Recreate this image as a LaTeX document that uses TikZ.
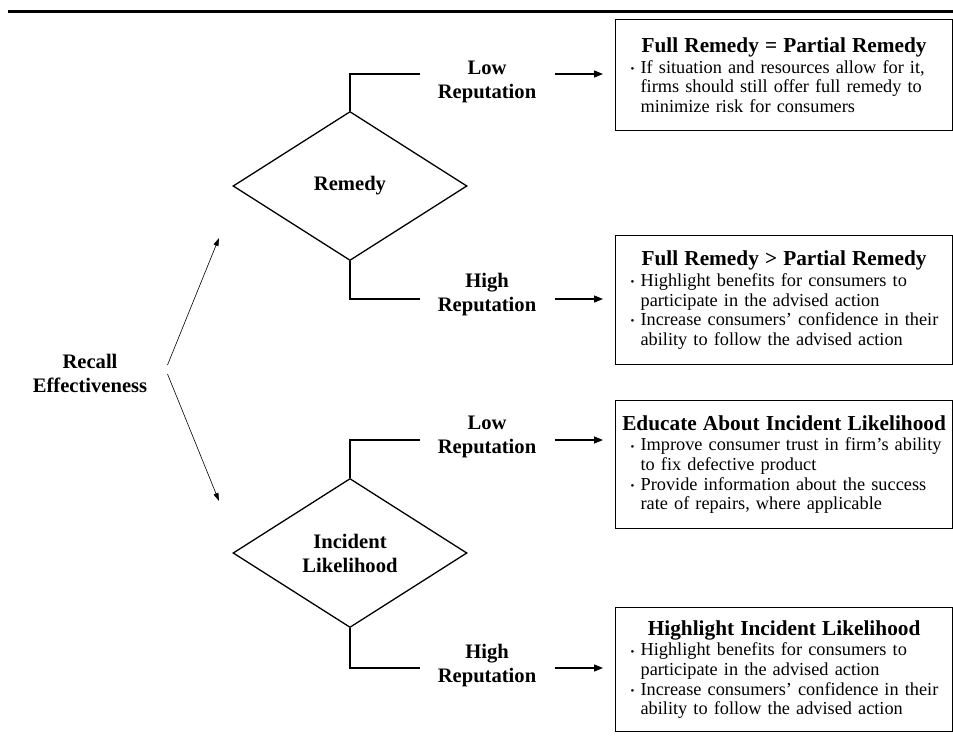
\documentclass[tikz,border=0pt]{standalone}
\usepackage{fontspec}
\setmainfont{Liberation Serif}
\usepackage{tikz}
\usetikzlibrary{shapes.geometric, arrows.meta, positioning}

\newcommand{\lbl}{\fontsize{20.6}{24}\selectfont\bfseries}
\newcommand{\cuerpo}{\fontsize{18.3}{19.7}\selectfont}
\newcommand{\titulo}[1]{{\fontsize{21.3}{22}\selectfont\bfseries\makebox[\linewidth][c]{#1}\par}\vspace{1pt}}
\newcommand{\bul}{\raisebox{0.8pt}{\fontsize{11}{11}\selectfont\textbullet}}
\newcommand{\itm}[1]{\par\noindent\hspace*{10pt}\makebox[10pt][l]{\bul}\mbox{#1}\par}
\newcommand{\sig}[1]{\noindent\hspace*{20pt}\mbox{#1}\par}

\begin{document}
\begin{tikzpicture}[x=1pt, y=-1pt, semithick,
                  rombo/.style={diamond, draw, line width=1.3pt, minimum width=234pt,
                  minimum height=149pt, inner sep=0pt, align=center, font=\lbl},
                  etiq/.style={align=center, font=\lbl, inner xsep=18pt},
                  caja/.style={draw, line width=1.2pt, anchor=north west, text width=327pt,
                  inner xsep=5pt, inner ysep=0pt, minimum height=#1, font=\cuerpo},
                  linea/.style={line width=1.3pt},
                  flecha/.style={line width=1.3pt, -{Triangle[length=9pt, width=7pt]}},
                  flechad/.style={line width=0.6pt, -{Triangle[length=8pt, width=5pt]}}]

                  \useasboundingbox (0,0) rectangle (953,736);
                  \draw[line width=3pt] (8,11.5) -- (953,11.5);

                  % Nodo de partida y decisiones.
                  \node[align=center, font=\lbl, inner xsep=20pt] (re) at (90,373)
                  {Recall\\Effectiveness};
                  \node[rombo] (d1) at (350,186) {Remedy};
                  \node[rombo] (d2) at (350,553) {Incident\\Likelihood};

                  % Etiquetas de reputacion.
                  \node[etiq] (l1) at (487,82) {Low\\Reputation};
                  \node[etiq] (h1) at (487,295) {High\\Reputation};
                  \node[etiq] (l2) at (487,437) {Low\\Reputation};
                  \node[etiq] (h2) at (487,666) {High\\Reputation};

                  \coordinate (c1) at (420,74);
                  \coordinate (c2) at (420,299);
                  \coordinate (c3) at (420,440);
                  \coordinate (c4) at (420,668);
                  \coordinate (e1) at (219,238);
                  \coordinate (e2) at (219,501);

                  % Cajas de recomendaciones.
                  \node[caja=111pt] (b1) at (615,19)
                  {\titulo{Full Remedy = Partial Remedy}%
                  \itm{If situation and resources allow for it,}
                  \sig{firms should still offer full remedy to}
                  \sig{minimize risk for consumers}};
                  \node[caja=129pt] (b2) at (615,235)
                  {\titulo{Full Remedy > Partial Remedy}%
                  \itm{Highlight benefits for consumers to}
                  \sig{participate in the advised action}
                  \itm{Increase consumers’ confidence in their}
                  \sig{ability to follow the advised action}};
                  \node[caja=128pt] (b3) at (615,400)
                  {\titulo{Educate About Incident Likelihood}%
                  \itm{Improve consumer trust in firm’s ability}
                  \sig{to fix defective product}
                  \itm{Provide information about the success}
                  \sig{rate of repairs, where applicable}};
                  \node[caja=124pt] (b4) at (615,607)
                  {\titulo{Highlight Incident Likelihood}%
                  \itm{Highlight benefits for consumers to}
                  \sig{participate in the advised action}
                  \itm{Increase consumers’ confidence in their}
                  \sig{ability to follow the advised action}};

                  % Dibujamos las conexiones.
                  \draw[flechad] ([yshift=8pt]re.east) -- (e1);
                  \draw[flechad] ([yshift=-1pt]re.east) -- (e2);
                  \draw[linea] (d1.north) |- (c1);
                  \draw[linea] (d1.south) |- (c2);
                  \draw[linea] (d2.north) |- (c3);
                  \draw[linea] (d2.south) |- (c4);
                  \draw[flecha] (l1.east |- c1) -- ([xshift=-12pt]b1.west |- c1);
                  \draw[flecha] (h1.east |- c2) -- ([xshift=-12pt]b2.west |- c2);
                  \draw[flecha] (l2.east |- c3) -- ([xshift=-12pt]b3.west |- c3);
                  \draw[flecha] (h2.east |- c4) -- ([xshift=-12pt]b4.west |- c4);

\end{tikzpicture}
\end{document}
